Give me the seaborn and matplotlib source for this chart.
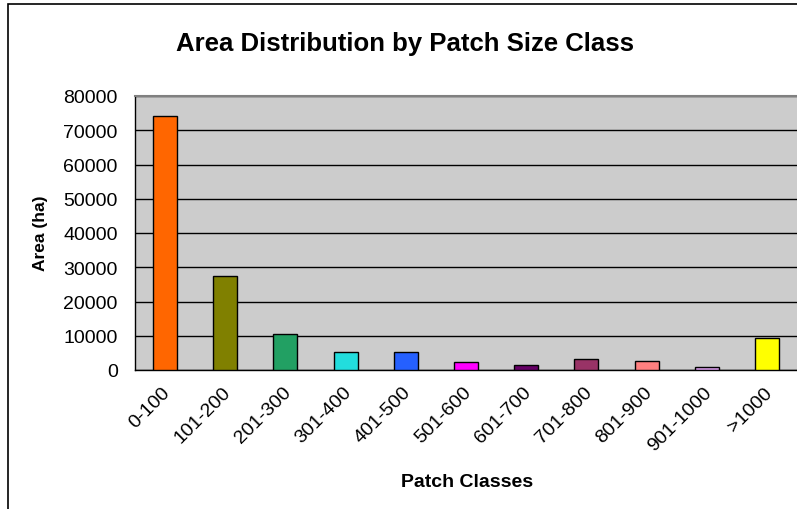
import numpy as np
import pandas as pd
import matplotlib
matplotlib.use('Agg')
import matplotlib.pyplot as plt
import matplotlib.transforms as mtransforms
from matplotlib.patches import Rectangle
import seaborn as sns

classes = ['0-100', '101-200', '201-300', '301-400', '401-500', '501-600',
           '601-700', '701-800', '801-900', '901-1000', '>1000']
area_ha = [74200, 27300, 10400, 5250, 5200, 2200, 1400, 3100, 2750, 1000, 9250]
bar_colors = ['#FF6600', '#808000', '#22A063', '#22DDDD', '#2560FF', '#FF00FF',
              '#660066', '#993366', '#FF8080', '#DDA0F0', '#FFFF00']

df = pd.DataFrame({'Patch Classes': classes, 'Area (ha)': area_ha})

sns.set_style('white')
plt.rcParams['font.family'] = ['Liberation Sans', 'DejaVu Sans']
plt.rcParams['text.color'] = 'black'
plt.rcParams['xtick.color'] = 'black'
plt.rcParams['ytick.color'] = 'black'

fig = plt.figure(figsize=(7.97, 5.10), dpi=100)
ax = fig.add_axes([135 / 797, 1 - 371 / 510, 662 / 797, 274 / 510])
ax.set_facecolor('#CCCCCC')

sns.barplot(data=df, x='Patch Classes', y='Area (ha)', hue='Patch Classes',
            palette=bar_colors, saturation=1, width=0.4, edgecolor='black',
            linewidth=1, legend=False, ax=ax, zorder=3)

ax.set_xlim(-0.5, len(classes) - 0.5)
ax.set_ylim(0, 80000)
ax.set_yticks(np.arange(0, 80001, 10000))
ax.yaxis.grid(True, color='black', linewidth=1, zorder=1)
ax.set_axisbelow(True)

# ticks between categories, labels centred on bars
ax.set_xticks(np.arange(-0.5, len(classes), 1))
ax.set_xticklabels([])
ax.set_xticks(np.arange(len(classes)), minor=True)
ax.set_xticklabels(classes, minor=True, rotation=45, ha='right', va='center',
                   rotation_mode='anchor', fontsize=14)
ax.tick_params(axis='x', which='minor', length=0, pad=14)
ax.tick_params(axis='x', which='major', length=5, width=1, color='black', direction='out')
ax.tick_params(axis='y', length=5, width=1, color='black', direction='out', labelsize=14, pad=7.5)
offset = mtransforms.ScaledTranslation(2 / 72, 0, fig.dpi_scale_trans)
for lbl in ax.get_xticklabels(minor=True):
    lbl.set_transform(lbl.get_transform() + offset)

for s in ['left', 'bottom']:
    ax.spines[s].set_color('black')
    ax.spines[s].set_linewidth(1)
ax.spines['top'].set_color('#808080')
ax.spines['top'].set_linewidth(1.5)
ax.spines['right'].set_visible(False)

ax.set_xlabel('')
ax.set_ylabel('')
fig.text(40 / 797, 1 - 233 / 510, 'Area (ha)', rotation=90, ha='center', va='center',
         fontsize=12.5, fontweight='bold')
fig.text(467 / 797, 1 - 483 / 510, 'Patch Classes', ha='center', va='center',
         fontsize=14, fontweight='bold')
fig.text(405 / 797, 1 - 44 / 510, 'Area Distribution by Patch Size Class', ha='center',
         va='center', fontsize=18.5, fontweight='bold')

# outer chart frame (cropped on right and bottom)
fig.patches.append(Rectangle((8 / 797, -0.1), 1.2, 1 - 5 / 510 + 0.1, transform=fig.transFigure,
                             fill=False, edgecolor='black', linewidth=1.2))

fig.savefig('out.png', dpi=100)
